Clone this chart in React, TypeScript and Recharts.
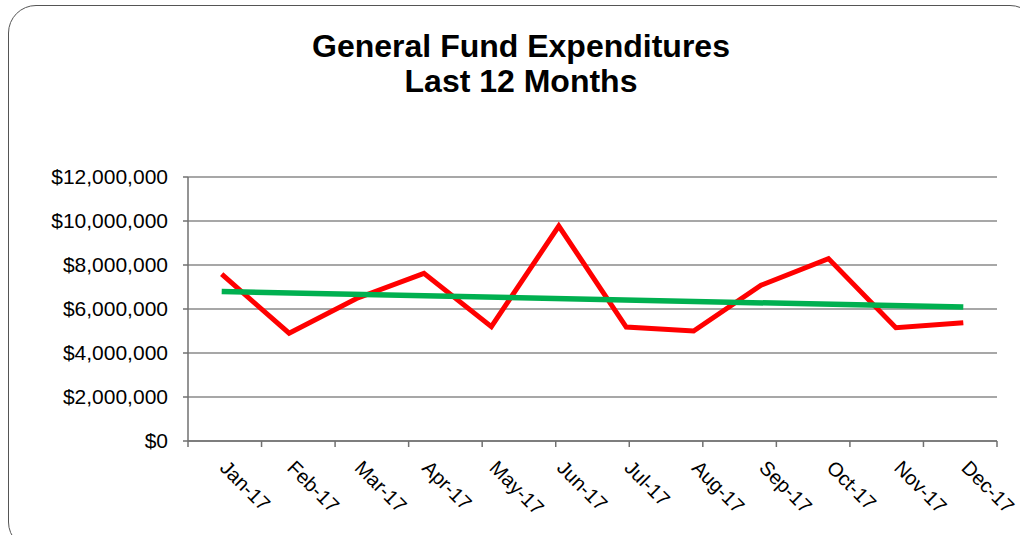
import React from 'react'
import { LineChart, Line, XAxis, YAxis, CartesianGrid } from 'recharts'

const months = ['Jan-17', 'Feb-17', 'Mar-17', 'Apr-17', 'May-17', 'Jun-17', 'Jul-17', 'Aug-17', 'Sep-17', 'Oct-17', 'Nov-17', 'Dec-17']
const expenditures = [7580000, 4900000, 6480000, 7620000, 5200000, 9770000, 5180000, 5000000, 7080000, 8290000, 5150000, 5380000]
// trend line only read at its two ends, the rest is drawn by connecting nulls
const trend = [6790000, null, null, null, null, null, null, null, null, null, null, 6090000]
const yTicks = [0, 2000000, 4000000, 6000000, 8000000, 10000000, 12000000]
const boundaryTicks = [0, 1, 2, 3, 4, 5, 6, 7, 8, 9, 10, 11, 12]

const data = months.map((m, i) => ({ month: m, spend: expenditures[i], trend: trend[i] }))

const FONT = '"Liberation Sans", Arial, Helvetica, sans-serif'

const fmtMoney = (v: number) => '$' + v.toLocaleString('en-US')

const MonthTick = ({ x, y, payload }: any) => {
  const tx = x - 3
  const ty = y + 22
  return (
    <text x={tx} y={ty} transform={`rotate(45 ${tx} ${ty})`} textAnchor="start" fontSize={20} fontFamily={FONT} fill="#000">
      {payload.value}
    </text>
  )
}

export default function App() {
  return (
    <div style={{ position: 'absolute', left: 0, top: 0, width: 1020, height: 535, overflow: 'hidden', background: '#fff' }}>
      <div style={{ position: 'absolute', left: 8, top: 5, width: 1030, height: 545, border: '1.5px solid #555', borderRadius: 28, boxSizing: 'border-box' }} />
      <div style={{ position: 'absolute', left: 0, top: 29, width: 1042, textAlign: 'center', fontFamily: FONT, fontWeight: 'bold', fontSize: 32, lineHeight: '35px', color: '#000' }}>
        General Fund Expenditures
        <br />
        Last 12 Months
      </div>
      <div style={{ position: 'absolute', left: 0, top: 0 }}>
        <LineChart width={1020} height={535} data={data} margin={{ top: 177, right: 23, left: 0, bottom: 0 }}>
          <CartesianGrid vertical={false} stroke="#8a8a8a" strokeWidth={1.5} />
          <XAxis
            xAxisId="bounds"
            type="number"
            domain={[0, 12]}
            ticks={boundaryTicks}
            tickFormatter={() => ''}
            tickSize={6}
            height={6}
            stroke="#707070"
            strokeWidth={1.5}
            allowDataOverflow
          />
          <XAxis
            xAxisId="m"
            dataKey="month"
            interval={0}
            padding={{ left: 33.7, right: 33.7 }}
            axisLine={false}
            tickLine={false}
            tickSize={0}
            tickMargin={0}
            height={88}
            tick={<MonthTick />}
          />
          <YAxis
            domain={[0, 12000000]}
            ticks={yTicks}
            width={188}
            tickFormatter={fmtMoney}
            tickSize={5}
            tickMargin={15}
            stroke="#707070"
            strokeWidth={1.5}
            tick={{ fill: '#000', fontSize: 21, fontFamily: FONT }}
          />
          <Line xAxisId="m" type="linear" dataKey="spend" stroke="#ff0000" strokeWidth={5} dot={false} isAnimationActive={false} />
          <Line xAxisId="m" type="linear" dataKey="trend" stroke="#00b050" strokeWidth={5.5} dot={false} connectNulls isAnimationActive={false} />
        </LineChart>
      </div>
    </div>
  )
}
